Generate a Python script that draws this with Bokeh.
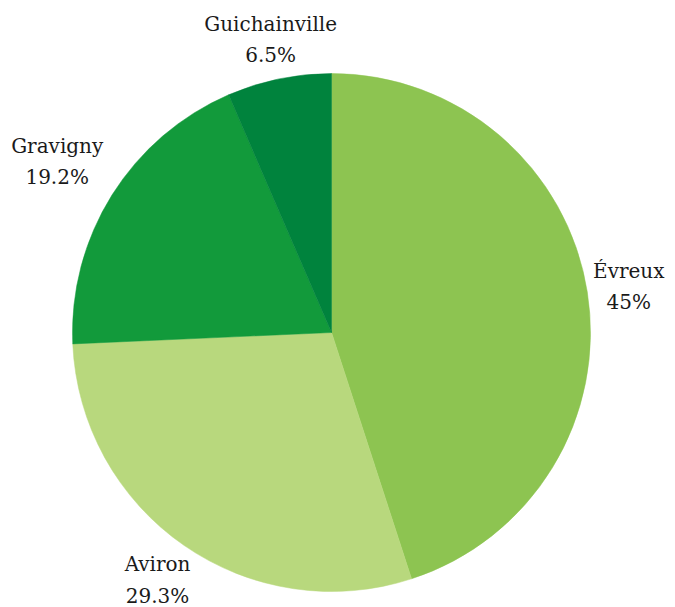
import math
from bokeh.plotting import figure
from bokeh.models import Range1d, ColumnDataSource
from bokeh.core.properties import value
from bokeh.embed import file_html
from bokeh.resources import INLINE

categories = ["Évreux", "Aviron", "Gravigny", "Guichainville"]
shares = [45.0, 29.3, 19.2, 6.5]
pct_labels = ["45%", "29.3%", "19.2%", "6.5%"]
colors = ["#8dc451", "#b8d87d", "#129a3b", "#00833d"]
label_dx = [1, -3, -20, 0]
label_dy = [-1, -1, 12, -1]

W, H = 675, 607
cx, cy, R = 331, 607 - 332, 259
LR = 300

total = sum(shares)
starts, ends, lx, ly, texts = [], [], [], [], []
acc = 0.0
for i, s in enumerate(shares):
    a0 = math.pi / 2 - 2 * math.pi * acc / total
    a1 = math.pi / 2 - 2 * math.pi * (acc + s) / total
    starts.append(a0)
    ends.append(a1)
    mid = (a0 + a1) / 2
    lx.append(cx + LR * math.cos(mid) + label_dx[i])
    ly.append(cy + LR * math.sin(mid) + label_dy[i])
    texts.append(categories[i] + "\n" + pct_labels[i])
    acc += s

src = ColumnDataSource(dict(start=starts, end=ends, color=colors, x=lx, y=ly, text=texts))

p = figure(width=W, height=H, output_backend="svg", toolbar_location=None,
           x_range=Range1d(0, W), y_range=Range1d(0, H), min_border=0)
p.axis.visible = False
p.grid.visible = False
p.outline_line_color = None
p.background_fill_color = "white"

p.wedge(x=cx, y=cy, radius=R, start_angle="start", end_angle="end", direction="clock",
        fill_color="color", line_color="color", line_width=0.5, source=src)
p.text(x="x", y="y", text="text", source=src, text_align="center", text_baseline="middle",
       text_font=value("DejaVu Serif"), text_font_size="20px", text_color="#1a1a1a",
       text_line_height=1.3)

open("out.html", "w").write(file_html(p, INLINE))
